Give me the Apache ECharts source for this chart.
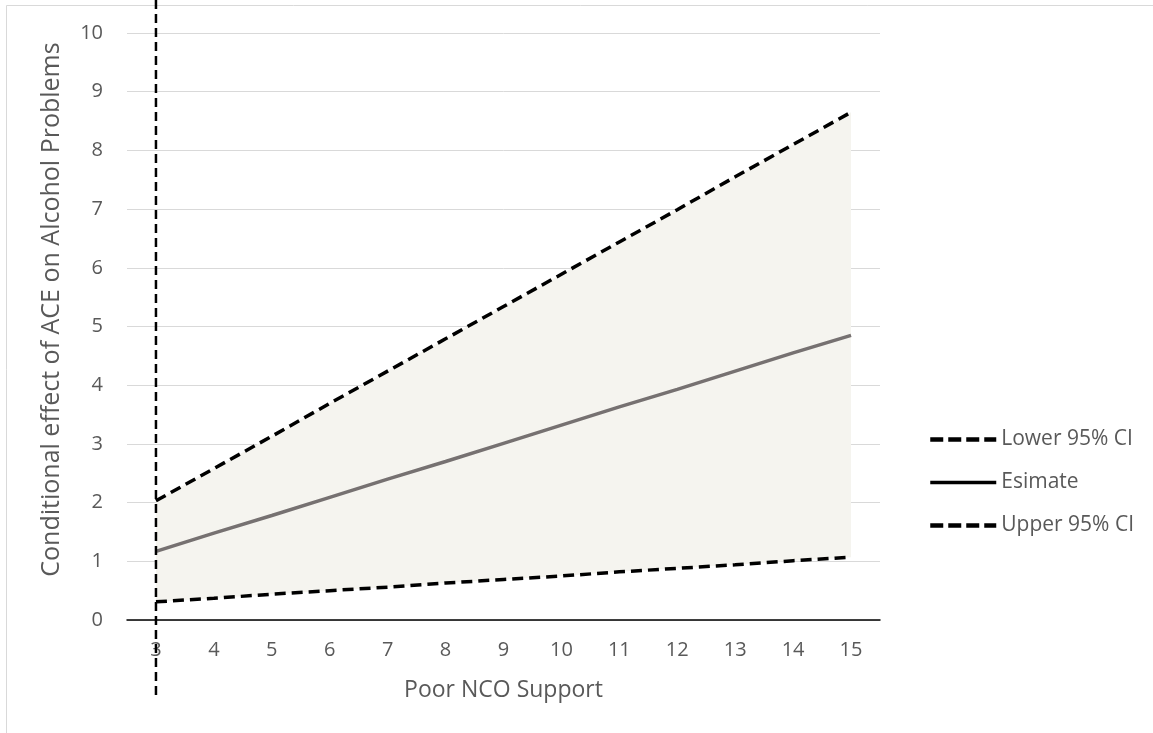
<!DOCTYPE html>
<html>
<head>
<meta charset="utf-8">
<script src="https://cdn.jsdelivr.net/npm/echarts@6/dist/echarts.min.js"></script>
<style>html,body{margin:0;padding:0;background:#fff;}#chart{width:1153px;height:733px;}</style>
</head>
<body>
<div id="chart"></div>
<script>
const categories = ['3','4','5','6','7','8','9','10','11','12','13','14','15'];
const lowerCI = [0.31, 0.37, 0.44, 0.50, 0.56, 0.63, 0.69, 0.75, 0.82, 0.88, 0.94, 1.01, 1.07];
const estimate = [1.17, 1.48, 1.78, 2.09, 2.40, 2.70, 3.01, 3.32, 3.63, 3.93, 4.24, 4.55, 4.85];
const upperCI = [2.03, 2.58, 3.13, 3.69, 4.24, 4.79, 5.34, 5.89, 6.44, 6.99, 7.55, 8.10, 8.65];
const yTicks = [0,1,2,3,4,5,6,7,8,9,10];
const refX = '3';

const font = 'Open Sans';
const band = upperCI.map((u, i) => +(u - lowerCI[i]).toFixed(3));

const chart = echarts.init(document.getElementById('chart'));
chart.setOption({
  backgroundColor: '#fff',
  animation: false,
  graphic: [{
    type: 'rect', silent: true, z: -10,
    shape: { x: 6.5, y: 5.5, width: 1300, height: 900 },
    style: { fill: 'none', stroke: '#d9d9d9', lineWidth: 1 }
  }],
  legend: {
    orient: 'vertical',
    left: 923, top: 424,
    itemWidth: 66, itemHeight: 14, itemGap: 22,
    textStyle: { fontFamily: font, fontSize: 21, color: '#595959' },
    itemStyle: { color: 'rgba(0,0,0,0)', borderWidth: 0, opacity: 0 },
    lineStyle: { width: 4.5 },
    data: [
      { name: 'Lower 95% CI', lineStyle: { color: '#000', width: 4.5, type: [13, 5] } },
      { name: 'Esimate', lineStyle: { color: '#000', width: 3.5, type: 'solid' } },
      { name: 'Upper 95% CI', lineStyle: { color: '#000', width: 4.5, type: [13, 5] } }
    ]
  },
  grid: [
    { left: 127, right: 273, top: 33, bottom: 113 },
    { left: 127, right: 273, top: 0, bottom: 38 }
  ],
  xAxis: [{
    type: 'category', data: categories, gridIndex: 0,
    name: 'Poor NCO Support', nameLocation: 'middle', nameGap: 59,
    nameTextStyle: { fontFamily: font, fontSize: 23, color: '#595959' },
    axisLine: { lineStyle: { color: '#000', width: 1.5 } },
    axisTick: { show: false },
    axisLabel: { fontFamily: font, fontSize: 20, color: '#595959', margin: 20 }
  }, {
    type: 'category', data: categories, gridIndex: 1, show: false
  }],
  yAxis: [{
    type: 'value', min: yTicks[0], max: yTicks[yTicks.length - 1], interval: 1, gridIndex: 0,
    name: 'Conditional effect of ACE on Alcohol Problems', nameLocation: 'middle', nameGap: 63,
    nameTextStyle: { fontFamily: font, fontSize: 25, color: '#595959', padding: [0, 0, 0, 34] },
    axisLine: { show: false }, axisTick: { show: false },
    axisLabel: { fontFamily: font, fontSize: 20, color: '#595959', margin: 24 },
    splitLine: { lineStyle: { color: '#d9d9d9', width: 1 } }
  }, {
    type: 'value', min: 0, max: 1, gridIndex: 1, show: false
  }],
  series: [
    { name: 'bandBase', type: 'line', stack: 'band', data: lowerCI, symbol: 'none',
      lineStyle: { opacity: 0 }, silent: true, z: 1 },
    { name: 'bandFill', type: 'line', stack: 'band', data: band, symbol: 'none',
      lineStyle: { opacity: 0 }, areaStyle: { color: '#f5f4ef', opacity: 1 }, silent: true, z: 1 },
    { name: 'Lower 95% CI', type: 'line', data: lowerCI, symbol: 'none',
      lineStyle: { color: '#000', width: 3.5, type: [11, 6] }, z: 3 },
    { name: 'Esimate', type: 'line', data: estimate, symbol: 'none',
      lineStyle: { color: '#767171', width: 3.5 }, z: 3 },
    { name: 'Upper 95% CI', type: 'line', data: upperCI, symbol: 'none',
      lineStyle: { color: '#000', width: 3.5, type: [11, 6] }, z: 3 },
    { name: 'refLine', type: 'line', xAxisIndex: 1, yAxisIndex: 1,
      data: [[refX, 0], [refX, 1]], symbol: 'none',
      lineStyle: { color: '#000', width: 2.5, type: [9, 5] }, z: 4 }
  ]
});
</script>
</body>
</html>
